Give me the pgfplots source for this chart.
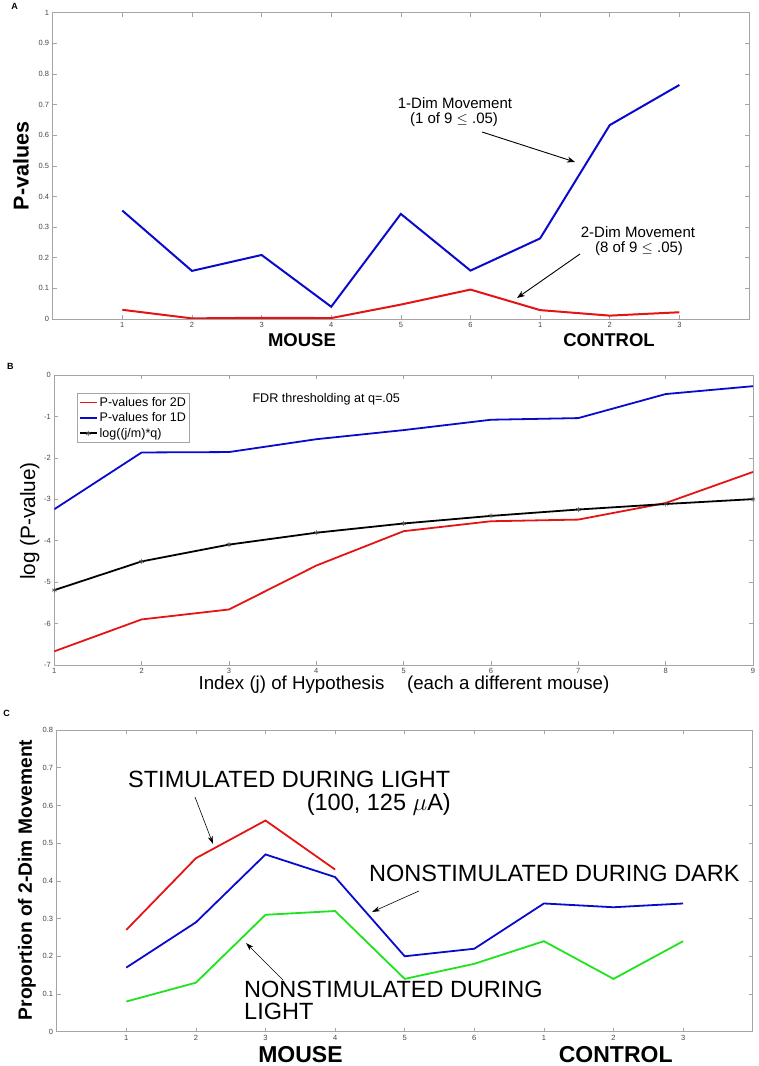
\documentclass[border=0pt]{standalone}
\usepackage{fontspec}
\setmainfont{Liberation Sans}
\usepackage{pgfplots}
\pgfplotsset{compat=1.18}
\usetikzlibrary{arrows.meta}
\definecolor{pred}{RGB}{228,20,20}
\definecolor{pblue}{RGB}{10,10,205}
\definecolor{pgreen}{RGB}{30,228,30}
\definecolor{axgray}{RGB}{165,165,165}
\definecolor{lblgray}{RGB}{70,70,70}
\pgfplotsset{
  base/.style={
    scale only axis,
    anchor=south west,
    axis line style={axgray, line width=0.8pt},
    major tick style={axgray, line width=0.6pt},
    major tick length=4pt,
    tick align=inside,
    /pgf/number format/assume math mode=true,
    tick label style={font=\fontsize{7.5}{9}\selectfont, text=lblgray},
  }
}
\begin{document}
\begin{tikzpicture}
\useasboundingbox (0pt,0pt) rectangle (759pt,1066pt);
% ---------------- Panel A ----------------
\node[font=\bfseries\fontsize{9}{10}\selectfont] at (14.5pt,1059.5pt) {A};
\begin{axis}[base, at={(52.7pt,747pt)}, width=696.3pt, height=306.3pt,
  xmin=0, xmax=10, ymin=0, ymax=1,
  xtick={1,2,3,4,5,6,7,8,9}, xticklabels={1,2,3,4,5,6,1,2,3},
  ytick={0,0.1,0.2,0.3,0.4,0.5,0.6,0.7,0.8,0.9,1},
  yticklabels={0,0.1,0.2,0.3,0.4,0.5,0.6,0.7,0.8,0.9,1}]
\addplot[pblue, line width=2pt] coordinates {(1,0.354)(2,0.157)(3,0.209)(4,0.040)(5,0.343)(6,0.158)(7,0.263)(8,0.633)(9,0.764)};
\addplot[pred, line width=2pt] coordinates {(1,0.030)(2,0.002)(3,0.004)(4,0.003)(5,0.047)(6,0.096)(7,0.029)(8,0.011)(9,0.022)};
\end{axis}
\node[rotate=90, font=\bfseries\fontsize{21.5}{24}\selectfont] at (21pt,900pt) {P-values};
\node[anchor=base, inner sep=0pt, font=\bfseries\fontsize{18.5}{20}\selectfont] at (302pt,719pt) {MOUSE};
\node[anchor=base, inner sep=0pt, font=\bfseries\fontsize{18.5}{20}\selectfont] at (609pt,719pt) {CONTROL};
\node[anchor=base, inner sep=0pt, font=\fontsize{15}{16}\selectfont] at (455pt,957.5pt) {1-Dim Movement};
\node[anchor=base, inner sep=0pt, font=\fontsize{15}{16}\selectfont] at (454pt,942pt) {(1 of 9 $\leq$ .05)};
\node[anchor=base, inner sep=0pt, font=\fontsize{15}{16}\selectfont] at (638pt,828.8pt) {2-Dim Movement};
\node[anchor=base, inner sep=0pt, font=\fontsize{15}{16}\selectfont] at (639pt,813.3pt) {(8 of 9 $\leq$ .05)};
\draw[-{Stealth[length=8pt,width=6pt]}, line width=0.9pt] (482pt,934pt) -- (575pt,904pt);
\draw[-{Stealth[length=8pt,width=6pt]}, line width=0.9pt] (580pt,812pt) -- (517pt,768pt);
% ---------------- Panel B ----------------
\node[font=\bfseries\fontsize{9}{10}\selectfont] at (10.3pt,700pt) {B};
\begin{axis}[base, at={(54.3pt,401pt)}, width=698.7pt, height=290pt,
  xmin=1, xmax=9, ymin=-7, ymax=0,
  xtick={1,2,3,4,5,6,7,8,9}, xticklabels={1,2,3,4,5,6,7,8,9},
  ytick={-7,-6,-5,-4,-3,-2,-1,0}, yticklabels={-7,-6,-5,-4,-3,-2,-1,0},
  legend style={at={(0.0325,0.938)}, anchor=north west, draw=axgray, line width=0.6pt,
    font=\fontsize{12.5}{14}\selectfont, row sep=0.8pt, inner xsep=1.5pt, inner ysep=2pt, fill=white},
  legend cell align=left]
\addplot[pred, line width=1.8pt] coordinates {(1,-6.67)(2,-5.90)(3,-5.66)(4,-4.60)(5,-3.77)(6,-3.53)(7,-3.49)(8,-3.09)(9,-2.34)};
\addlegendentry{P-values for 2D\hspace{22pt}}
\addplot[pblue, line width=1.8pt] coordinates {(1,-3.24)(2,-1.87)(3,-1.86)(4,-1.55)(5,-1.33)(6,-1.08)(7,-1.04)(8,-0.46)(9,-0.27)};
\addlegendentry{P-values for 1D}
\addplot[black, line width=1.8pt, mark=asterisk, mark size=2.5pt, mark options={line width=0.6pt, gray!60!black}] coordinates {(1,-5.193)(2,-4.500)(3,-4.094)(4,-3.807)(5,-3.584)(6,-3.401)(7,-3.247)(8,-3.114)(9,-2.996)};
\addlegendentry{log((j/m)*q)}
\end{axis}
\node[anchor=base west, font=\fontsize{12.6}{14}\selectfont] at (249pt,663.7pt) {FDR thresholding at q=.05};
\node[rotate=90, font=\fontsize{20.8}{24}\selectfont] at (29.7pt,545pt) {log (P-value)};
\node[anchor=base, font=\fontsize{18.7}{20}\selectfont] at (404pt,376.5pt) {Index (j) of Hypothesis\hspace{1.2em}(each a different mouse)};
% ---------------- Panel C ----------------
\node[font=\bfseries\fontsize{9}{10}\selectfont] at (6.5pt,353pt) {C};
\begin{axis}[base, at={(56.7pt,34.3pt)}, width=696pt, height=301.7pt,
  xmin=0, xmax=10, ymin=0, ymax=0.8,
  xtick={1,2,3,4,5,6,7,8,9}, xticklabels={1,2,3,4,5,6,1,2,3},
  ytick={0,0.1,0.2,0.3,0.4,0.5,0.6,0.7,0.8},
  yticklabels={0,0.1,0.2,0.3,0.4,0.5,0.6,0.7,0.8}]
\addplot[pred, line width=1.8pt] coordinates {(1,0.27)(2,0.46)(3,0.56)(4,0.43)};
\addplot[pblue, line width=1.8pt] coordinates {(1,0.17)(2,0.29)(3,0.47)(4,0.41)(5,0.20)(6,0.22)(7,0.34)(8,0.33)(9,0.34)};
\addplot[pgreen, line width=1.8pt] coordinates {(1,0.08)(2,0.13)(3,0.31)(4,0.32)(5,0.14)(6,0.18)(7,0.24)(8,0.14)(9,0.24)};
\end{axis}
\node[rotate=90, font=\bfseries\fontsize{19.2}{22}\selectfont] at (27pt,186pt) {Proportion of 2-Dim Movement};
\node[anchor=base, inner sep=0pt, font=\bfseries\fontsize{23}{25}\selectfont] at (300.5pt,3pt) {MOUSE};
\node[anchor=base, inner sep=0pt, font=\bfseries\fontsize{23}{25}\selectfont] at (615.7pt,3pt) {CONTROL};
\node[anchor=base west, inner sep=0pt, font=\fontsize{23.5}{26}\selectfont] at (128pt,278.2pt) {STIMULATED DURING LIGHT};
\node[anchor=base east, inner sep=0pt, font=\fontsize{23.5}{26}\selectfont] at (451pt,255pt) {(100, 125 $\mu$A)};
\node[anchor=base west, inner sep=0pt, font=\fontsize{23.5}{26}\selectfont] at (369pt,184.3pt) {NONSTIMULATED DURING DARK};
\node[anchor=base west, inner sep=0pt, font=\fontsize{23.5}{26}\selectfont] at (244pt,68.3pt) {NONSTIMULATED DURING};
\node[anchor=base west, inner sep=0pt, font=\fontsize{23.5}{26}\selectfont] at (244pt,46pt) {LIGHT};
\draw[-{Stealth[length=8pt,width=5pt]}, line width=0.6pt] (195pt,269pt) -- (213pt,222pt);
\draw[-{Stealth[length=8pt,width=5pt]}, line width=0.6pt] (419pt,175pt) -- (372pt,154pt);
\draw[-{Stealth[length=8pt,width=5pt]}, line width=0.6pt] (283pt,86pt) -- (246pt,123pt);
\end{tikzpicture}
\end{document}
